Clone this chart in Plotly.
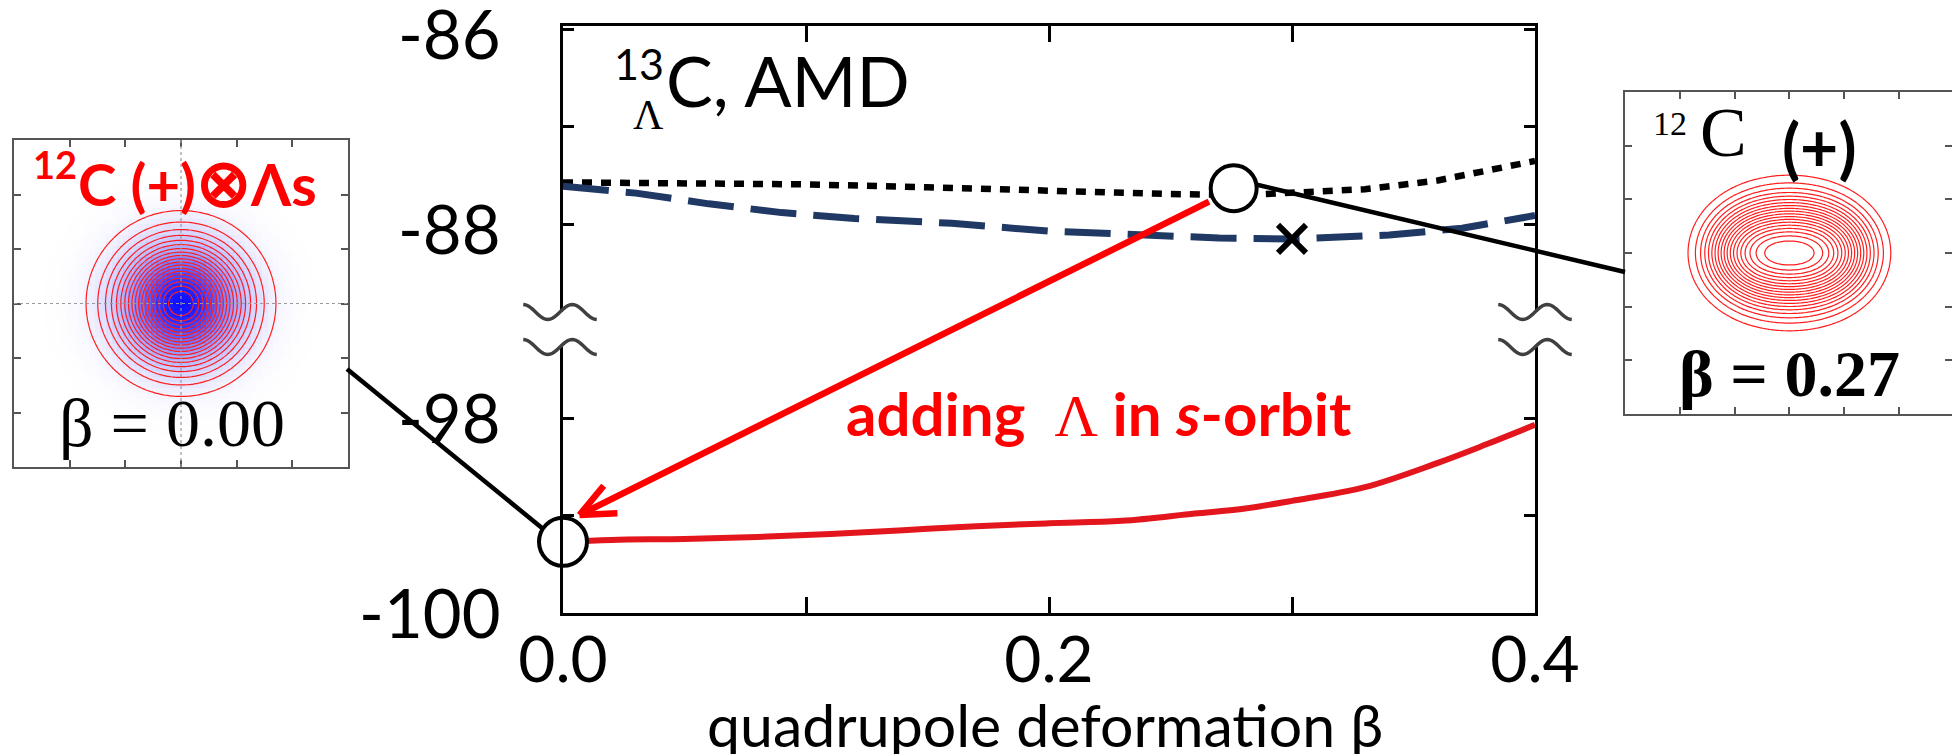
import numpy as np
import plotly.graph_objects as go

W, H = 1952, 754

# ---------------- data ----------------
beta_dotted = [0.00, 0.05, 0.10, 0.15, 0.20, 0.25, 0.28, 0.30, 0.33, 0.36, 0.40]
E_dotted = [-87.57, -87.58, -87.59, -87.62, -87.66, -87.69, -87.70, -87.68, -87.64, -87.55, -87.35]

beta_dashed = [0.00, 0.03, 0.06, 0.09, 0.12, 0.16, 0.20, 0.24, 0.27, 0.30, 0.34, 0.37, 0.40]
E_dashed = [-87.61, -87.68, -87.79, -87.88, -87.94, -87.99, -88.07, -88.12, -88.14, -88.15, -88.11, -88.04, -87.91]

beta_red = [0.00, 0.02, 0.05, 0.08, 0.11, 0.14, 0.17, 0.20, 0.23, 0.26, 0.28, 0.30, 0.33, 0.36, 0.38, 0.40]
E_red = [-99.27, -99.25, -99.24, -99.22, -99.19, -99.15, -99.11, -99.08, -99.055, -98.98, -98.93, -98.85, -98.71, -98.46, -98.27, -98.07]

cross_beta, cross_E = [0.30], [-88.15]
circ_top_beta, circ_top_E = [0.276], [-87.63]
circ_bot_beta, circ_bot_E = [0.0], [-99.27]

x_ticks = [0.0, 0.1, 0.2, 0.3, 0.4]
x_ticktext = ["0.0", "", "0.2", "", "0.4"]
y_top_ticks = [-88, -87, -86]
y_top_text = ["-88", "", "-86"]
y_bot_ticks = [-100, -99, -98]
y_bot_text = ["-100", "", "-98"]

# density-map inset parameters (shape of the pictured densities)
inset_grid = np.linspace(-6, 6, 161)
inset_heat_grid = np.linspace(-6, 6, 61)
sph_width = 1.97                              # beta = 0.00 density width
def_ax, def_ay, def_q = 0.0535, 0.255, 0.0121  # beta = 0.27 density shape
contour_levels = dict(start=0.05, end=0.95, size=0.05)

# ---------------- helpers ----------------
def px(xp):
    return xp / W

def py(yp):
    return 1 - yp / H

def sph(xg, yg):
    X, Y = np.meshgrid(xg, yg)
    return np.exp(-(X ** 2 + Y ** 2) / sph_width ** 2)

def deformed(xg, yg):
    X, Y = np.meshgrid(xg, yg)
    return np.exp(-(def_ax * X ** 2 + def_ay * Y ** 2 + def_q * (X ** 2 + Y ** 2) ** 2))

def wave_path(cx, cy, half=24.5, amp=7.5, n=48):
    x0 = cx - 1.5 * half
    pts = []
    for i in range(n + 1):
        t = 3 * np.pi * i / n
        xx = x0 + t / np.pi * half
        yy = cy - amp * np.cos(t)
        pts.append(f"{px(xx):.5f},{py(yy):.5f}")
    return "M " + " L ".join(pts)

def pline(x0, y0, x1, y1, color, width):
    return dict(type="line", xref="paper", yref="paper", x0=px(x0), y0=py(y0), x1=px(x1), y1=py(y1),
                line=dict(color=color, width=width), layer="above")

fig = go.Figure()

# ---------------- main plot ----------------
fig.add_trace(go.Scatter(x=beta_dotted, y=E_dotted, xaxis="x2", yaxis="y2", mode="lines",
                         line=dict(color="black", width=6.5, dash="10px,9px"), showlegend=False))
fig.add_trace(go.Scatter(x=beta_dashed, y=E_dashed, xaxis="x2", yaxis="y2", mode="lines",
                         line=dict(color="#1f3864", width=7, dash="46px,17px"), showlegend=False))
fig.add_trace(go.Scatter(x=cross_beta, y=cross_E, xaxis="x2", yaxis="y2", mode="markers",
                         marker=dict(symbol="x-thin", size=28, line=dict(color="black", width=6)),
                         showlegend=False))
fig.add_trace(go.Scatter(x=beta_red, y=E_red, xaxis="x", yaxis="y", mode="lines",
                         line=dict(color="#e3161e", width=6, shape="spline"), showlegend=False))
fig.add_trace(go.Scatter(x=circ_top_beta, y=circ_top_E, xaxis="x2", yaxis="y2", mode="markers",
                         marker=dict(symbol="circle", size=46, color="white", line=dict(color="black", width=4)),
                         cliponaxis=False, showlegend=False))
fig.add_trace(go.Scatter(x=circ_bot_beta, y=circ_bot_E, xaxis="x", yaxis="y", mode="markers",
                         marker=dict(symbol="circle", size=48, color="white", line=dict(color="black", width=4)),
                         cliponaxis=False, showlegend=False))

# ---------------- insets ----------------
fig.add_trace(go.Heatmap(x=inset_heat_grid, y=inset_heat_grid, z=sph(inset_heat_grid, inset_heat_grid),
                         xaxis="x3", yaxis="y3", zmin=0, zmax=1, showscale=False, hoverinfo="skip",
                         colorscale=[[0, "rgb(255,255,255)"], [1, "rgb(15,15,255)"]]))
fig.add_trace(go.Contour(x=inset_grid, y=inset_grid, z=sph(inset_grid, inset_grid), xaxis="x3", yaxis="y3",
                         contours=dict(coloring="lines", **contour_levels), line=dict(width=1.2),
                         colorscale=[[0, "rgb(255,30,30)"], [1, "rgb(255,30,30)"]], showscale=False,
                         hoverinfo="skip"))
fig.add_trace(go.Contour(x=inset_grid, y=inset_grid, z=deformed(inset_grid, inset_grid), xaxis="x4", yaxis="y4",
                         contours=dict(coloring="lines", **contour_levels), line=dict(width=1.2),
                         colorscale=[[0, "rgb(255,30,30)"], [1, "rgb(255,30,30)"]], showscale=False,
                         hoverinfo="skip"))

main_x_dom = [px(563), px(1535)]
sans = "Lato, Carlito, sans-serif"
serif = "Liberation Serif, DejaVu Serif, serif"
common_x = dict(domain=main_x_dom, range=[0, 0.4], showline=True, linecolor="black", linewidth=3,
                ticks="inside", ticklen=16, tickwidth=3, tickcolor="black", tickvals=x_ticks,
                ticktext=x_ticktext, showgrid=False, zeroline=False,
                tickfont=dict(family=sans, size=64, color="black"), automargin=False)
common_y = dict(showline=True, linecolor="black", linewidth=3, ticks="inside", ticklen=11, tickwidth=3,
                tickcolor="black", mirror="ticks", showgrid=False, zeroline=False,
                tickfont=dict(family=sans, size=67, color="black"),
                ticklabelstandoff=46, automargin=False, ticklabeloverflow="allow")
inset_ax = dict(showline=True, linecolor="#555555", linewidth=2, mirror="ticks", ticks="inside", ticklen=7,
                tickwidth=1.5, tickcolor="#555555", showticklabels=False, showgrid=False, zeroline=False,
                tickvals=[-4, -2, 0, 2, 4], automargin=False)

fig.update_layout(
    template="none",
    width=W, height=H, margin=dict(l=0, r=0, t=0, b=0, autoexpand=False),
    paper_bgcolor="white", plot_bgcolor="rgba(0,0,0,0)", showlegend=False,
    xaxis=dict(anchor="y", side="bottom", ticklabelstandoff=-11, ticklabeloverflow="allow", **common_x),
    xaxis2=dict(anchor="y2", side="top", matches="x", showticklabels=False, **common_x),
    yaxis=dict(anchor="x", domain=[py(613), py(347)], range=[-100, -100 + 266 / 97.5],
               tickvals=y_bot_ticks, ticktext=y_bot_text, ticklabelshift=2, **common_y),
    yaxis2=dict(anchor="x2", domain=[py(312), py(26)], range=[-85.966 - 286 / 97.5, -85.966],
                tickvals=y_top_ticks, ticktext=y_top_text, ticklabelshift=6, **common_y),
    xaxis3=dict(anchor="y3", domain=[px(14), px(348)], range=[-6, 6], **inset_ax),
    yaxis3=dict(anchor="x3", domain=[py(467), py(140)], range=[-6, 6], **inset_ax),
    xaxis4=dict(anchor="y4", domain=[px(1625), 1.0], range=[-6, -6 + 327 / 27.4], **inset_ax),
    yaxis4=dict(anchor="x4", domain=[py(414), py(92)], range=[-6, 6], **inset_ax),
)

shapes = []
# dotted cross-hair in the left inset
shapes.append(dict(type="line", xref="x3", yref="y3", x0=0, x1=0, y0=-6, y1=6,
                   line=dict(color="#9a9a9a", width=1.2, dash="dot"), layer="above"))
shapes.append(dict(type="line", xref="x3", yref="y3", x0=-6, x1=6, y0=0, y1=0,
                   line=dict(color="#9a9a9a", width=1.2, dash="dot"), layer="above"))
# axis-break waves
for cx in (560, 1535):
    for cy in (312, 347):
        shapes.append(dict(type="path", xref="paper", yref="paper", path=wave_path(cx, cy),
                           line=dict(color="#404040", width=3.5), layer="above"))
# connectors
shapes.append(pline(347, 369, 542, 528, "black", 4.5))
shapes.append(pline(1256, 184.5, 1625, 272, "black", 4.5))
# red arrow
tip = np.array([579.5, 515.0])
tail = np.array([1209.0, 201.7])
shapes.append(pline(tail[0], tail[1], tip[0] + 3, tip[1] - 1.5, "#ff0000", 6.5))
d = (tail - tip) / np.linalg.norm(tail - tip)
for ang in (np.radians(24), np.radians(-24)):
    rot = np.array([[np.cos(ang), -np.sin(ang)], [np.sin(ang), np.cos(ang)]]) @ d
    end = tip + 38 * rot
    shapes.append(pline(tip[0], tip[1], end[0], end[1], "#ff0000", 6.5))
fig.update_layout(shapes=shapes)

def ann(text, xp, yp, size, family, color="black", xanchor="center"):
    return dict(text=text, x=px(xp), y=py(yp), xref="paper", yref="paper", showarrow=False,
                xanchor=xanchor, yanchor="middle", font=dict(size=size, family=family, color=color))

annotations = [
    ann("13", 639, 64, 43, sans),
    ann("Λ", 648, 115, 42, serif),
    ann("C, AMD", 664, 80, 70, sans, xanchor="left"),
    ann("<b>adding\u00a0\u00a0</b><span style='font-family:Liberation Serif'>Λ</span><b> in <i>s</i>-orbit</b>",
        1098, 413, 60, sans, color="#ff0000"),
    ann("quadrupole deformation β", 1045, 724, 59, sans),
    # left inset labels
    ann("<b>12</b>", 55, 164, 38, sans, color="#ff0000"),
    ann("<b>C (+)<span style='font-size:66px'>⊗</span>Λs</b>", 76, 180, 58, sans, color="#ff0000", xanchor="left"),
    ann("β = 0.00", 172, 423, 68, serif),
    # right inset labels
    ann("12", 1670, 124, 34, serif),
    ann("C", 1723, 132, 70, serif),
    ann("<b>(+)</b>", 1819, 146, 66, sans),
    ann("<b>β = 0.27</b>", 1789, 373, 66, serif),
]
fig.update_layout(annotations=annotations)

fig.write_html("out.html")
